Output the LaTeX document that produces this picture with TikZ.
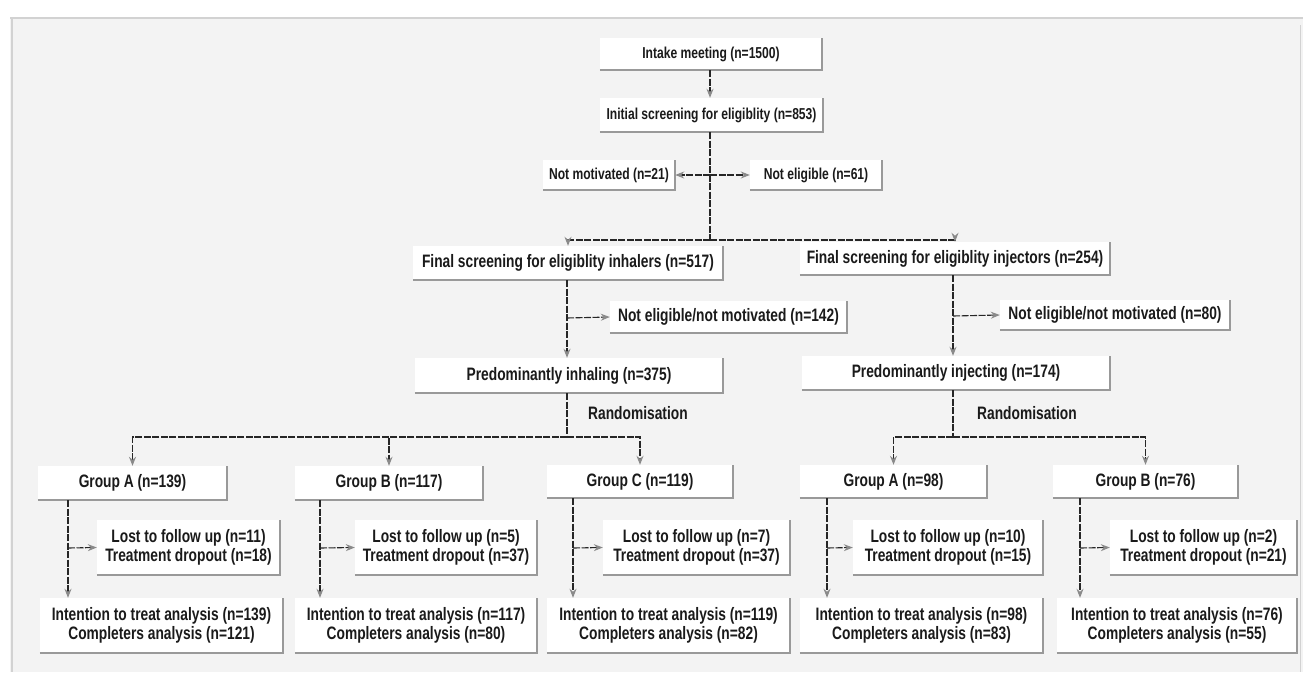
\documentclass[tikz,border=0pt]{standalone}
\usepackage{fontspec}
\setmainfont{Liberation Sans}[FakeStretch=0.765]
\usetikzlibrary{arrows.meta}
\definecolor{panel}{HTML}{F3F3F3}
\definecolor{frameline}{HTML}{D2D2D2}
\definecolor{shadowgray}{HTML}{999999}
\definecolor{linecol}{HTML}{262626}
\definecolor{arrowgray}{HTML}{8A8A8A}
\definecolor{textcol}{HTML}{1A1A1A}
\begin{document}
\begin{tikzpicture}[x=1pt,y=-1pt,
  box/.style={fill=white, inner sep=0pt, align=center, text=textcol, font=\bfseries\fontsize{18}{19}\selectfont},
  boxT/.style={box, font=\bfseries\fontsize{15.8}{18}\selectfont},
  shadowline/.style={draw=shadowgray, line width=1.8pt},
  conn/.style={draw=linecol, line width=1.1pt, dash pattern=on 7pt off 1.5pt},
  arr/.style={conn, -{Stealth[length=9pt,width=7pt,color=arrowgray]}},
  lbl/.style={inner sep=0pt, anchor=west, text=textcol, font=\bfseries\fontsize{18}{19}\selectfont}]
\useasboundingbox (0,0) rectangle (1303,672);
\fill[white] (0,0) rectangle (1303,672);
\fill[panel] (10,18) rectangle (1303,672);
\draw[frameline, line width=2pt] (12,18) -- (12,672);
\draw[frameline, line width=1.5pt] (10,18) -- (1303,18);
\draw[frameline, line width=1pt] (1300,25) -- (1300,672);

% top
\node[boxT, minimum width=222pt, minimum height=32pt] (intake) at (711,54) {Intake meeting (n=1500)};
\node[boxT, minimum width=223pt, minimum height=34pt] (init) at (711.5,115) {Initial screening for eligiblity (n=853)};
\node[boxT, minimum width=132pt, minimum height=30pt] (notmot) at (609,175) {Not motivated (n=21)};
\node[boxT, minimum width=132pt, minimum height=30pt] (notelig) at (816,175) {Not eligible (n=61)};

% second level
\node[box, minimum width=310pt, minimum height=34pt] (finInh) at (568,263) {Final screening for eligiblity inhalers (n=517)};
\node[box, minimum width=310pt, minimum height=33pt] (finInj) at (955,258.5) {Final screening for eligiblity injectors (n=254)};
\node[box, minimum width=237pt, minimum height=32pt] (ne142) at (728.5,317) {Not eligible/not motivated (n=142)};
\node[box, minimum width=230pt, minimum height=30pt] (ne80) at (1115,315) {Not eligible/not motivated (n=80)};
\node[box, minimum width=308pt, minimum height=35pt] (predInh) at (569,375.5) {Predominantly inhaling (n=375)};
\node[box, minimum width=308pt, minimum height=34pt] (predInj) at (956,373) {Predominantly injecting (n=174)};
\node[lbl] (randL) at (588,413) {Randomisation};
\node[lbl] (randR) at (977,413) {Randomisation};

% groups
\node[box, minimum width=189pt, minimum height=34pt] (gA) at (132.5,483) {Group A (n=139)};
\node[box, minimum width=188pt, minimum height=34pt] (gB) at (389,483) {Group B (n=117)};
\node[box, minimum width=186pt, minimum height=33pt] (gC) at (640,481.5) {Group C (n=119)};
\node[box, minimum width=187pt, minimum height=33pt] (gAi) at (893.5,481.5) {Group A (n=98)};
\node[box, minimum width=185pt, minimum height=33pt] (gBi) at (1145.5,481.5) {Group B (n=76)};

% lost
\node[box, minimum width=183pt, minimum height=55pt] (lA) at (188.5,547.5) {Lost to follow up (n=11)\\Treatment dropout (n=18)};
\node[box, minimum width=182pt, minimum height=55pt] (lB) at (446,547.5) {Lost to follow up (n=5)\\Treatment dropout (n=37)};
\node[box, minimum width=187pt, minimum height=55pt] (lC) at (696.5,547.5) {Lost to follow up (n=7)\\Treatment dropout (n=37)};
\node[box, minimum width=190pt, minimum height=55pt] (lAi) at (948,547.5) {Lost to follow up (n=10)\\Treatment dropout (n=15)};
\node[box, minimum width=187pt, minimum height=55pt] (lBi) at (1203.5,547.5) {Lost to follow up (n=2)\\Treatment dropout (n=21)};

% intention
\node[box, minimum width=243pt, minimum height=55pt] (iA) at (161.5,625.5) {Intention to treat analysis (n=139)\\Completers analysis (n=121)};
\node[box, minimum width=242pt, minimum height=55pt] (iB) at (416,625.5) {Intention to treat analysis (n=117)\\Completers analysis (n=80)};
\node[box, minimum width=243pt, minimum height=55pt] (iC) at (668.5,625.5) {Intention to treat analysis (n=119)\\Completers analysis (n=82)};
\node[box, minimum width=243pt, minimum height=55pt] (iAi) at (921.5,625.5) {Intention to treat analysis (n=98)\\Completers analysis (n=83)};
\node[box, minimum width=240pt, minimum height=55pt] (iBi) at (1177,625.5) {Intention to treat analysis (n=76)\\Completers analysis (n=55)};

\foreach \n in {intake,init,notmot,notelig,finInh,finInj,ne142,ne80,predInh,predInj,gA,gB,gC,gAi,gBi,lA,lB,lC,lAi,lBi,iA,iB,iC,iAi,iBi}
  \draw[shadowline] (\n.south west) -- (\n.south east) -- (\n.north east);

% junctions
\coordinate (j1) at (710,175);
\coordinate (j2) at (710,240);
\coordinate (j3) at (567,318);
\coordinate (j4) at (953,316);
\coordinate (r1) at (567,437);
\coordinate (r2) at (953,437);
\coordinate (jA) at (68,548);
\coordinate (jB) at (320,548);
\coordinate (jC) at (573,548);
\coordinate (jAi) at (827,548);
\coordinate (jBi) at (1080,548);

% connectors
\draw[arr] (intake.south -| j1) -- (init.north -| j1);
\draw[conn] (init.south -| j1) -- (j2);
\draw[arr] (j1) -- (notmot.east);
\draw[arr] (j1) -- (notelig.west);
\draw[arr] (j2) -| (finInh.north);
\draw[arr] (j2) -| (finInj.north);

\draw[arr] (finInh.south -| j3) -- (predInh.north -| j3);
\draw[arr] (j3) -- (ne142.west);
\draw[arr] (finInj.south -| j4) -- (predInj.north -| j4);
\draw[arr] (j4) -- (ne80.west);

\draw[conn] (predInh.south -| r1) -- (r1);
\draw[arr] (r1) -| (gA.north);
\draw[arr] (r1) -| (gB.north);
\draw[arr] (r1) -| (gC.north);
\draw[conn] (predInj.south -| r2) -- (r2);
\draw[arr] (r2) -| (gAi.north);
\draw[arr] (r2) -| (gBi.north);

\foreach \g/\l/\i/\j in {gA/lA/iA/jA, gB/lB/iB/jB, gC/lC/iC/jC, gAi/lAi/iAi/jAi, gBi/lBi/iBi/jBi}{
  \draw[arr] (\g.south -| \j) -- (\i.north -| \j);
  \draw[arr] (\j) -- (\l.west);
}
\end{tikzpicture}
\end{document}
